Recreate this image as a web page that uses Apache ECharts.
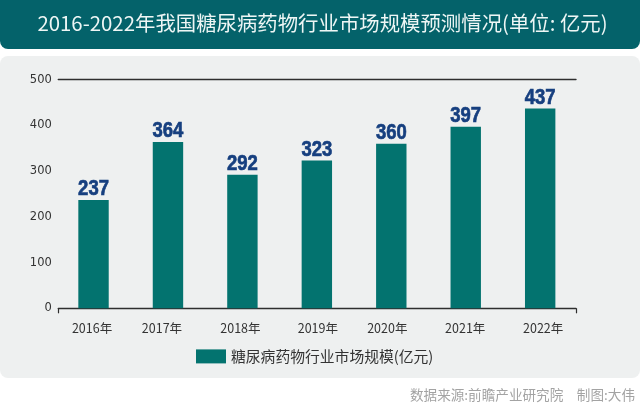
<!DOCTYPE html>
<html><head><meta charset="utf-8">
<style>html,body{margin:0;padding:0;background:#fff}#c{width:640px;height:405px}</style>
<script src="https://cdn.jsdelivr.net/npm/echarts@6/dist/echarts.min.js"></script>
</head><body><div id="c"></div>
<script>
const categories = ['2016年','2017年','2018年','2019年','2020年','2021年','2022年'];
const values = [237,364,292,323,360,397,437];
const seriesName = '糖尿病药物行业市场规模(亿元)';
const titleText = '2016-2022年我国糖尿病药物行业市场规模预测情况(单位: 亿元)';
const sourceText = '数据来源:前瞻产业研究院　制图:大伟';
const labelShift = [-1.5,-6,-2,1,-4,-0.5,3];
const cjk = '"Noto Sans CJK SC","Noto Sans",sans-serif';
const chart = echarts.init(document.getElementById('c'), null, {renderer:'canvas'});
const grids = {top:79.7,bottom:96.7};
chart.setOption({
  animation:false,
  backgroundColor:'#fff',
  graphic:[
    {type:'rect',z:-10,shape:{x:0,y:-10,width:640,height:59,r:8},style:{fill:'#04626a'},silent:true},
    {type:'rect',z:-10,shape:{x:0,y:56,width:640,height:322,r:8},style:{fill:'#eef0f0'},silent:true}
  ],
  title:[
    {text:titleText,left:317.5,top:8,textAlign:'center',textStyle:{color:'#eef6f5',fontFamily:cjk,fontWeight:400,fontSize:20.4}},
    {text:sourceText,right:0,top:383,textStyle:{color:'#a3a3a3',fontFamily:cjk,fontWeight:400,fontSize:13.6}}
  ],
  grid:[
    {left:56.3,right:62.6,...grids},
    {left:58.3,right:64,...grids}
  ],
  legend:{
    data:[seriesName],left:196,top:349,padding:0,itemWidth:30,itemHeight:14,itemGap:6,icon:'rect',
    textStyle:{color:'#333',fontFamily:cjk,fontSize:14.8}
  },
  xAxis:[
    {type:'category',gridIndex:0,
     data:categories.map((c,i)=>({value:c,textStyle:{padding:labelShift[i]>0?[0,0,0,labelShift[i]*2]:[0,-labelShift[i]*2,0,0]}})),
     axisLine:{show:false},axisTick:{show:false},
     axisLabel:{color:'#333',fontFamily:cjk,fontSize:12.5,margin:14}},
    {type:'value',gridIndex:1,min:0,max:1,interval:1,position:'bottom',
     axisLine:{show:true,lineStyle:{color:'#2e2e2e',width:1.4}},
     axisTick:{show:true,length:5,lineStyle:{color:'#2e2e2e',width:1.2}},
     axisLabel:{show:false},splitLine:{show:false}},
    {type:'value',gridIndex:1,min:0,max:1,interval:1,position:'top',
     axisLine:{show:true,lineStyle:{color:'#2e2e2e',width:1.4}},
     axisTick:{show:false},axisLabel:{show:false},splitLine:{show:false}}
  ],
  yAxis:[
    {type:'value',gridIndex:0,min:0,max:500,interval:100,
     axisLine:{show:false},axisTick:{show:false},splitLine:{show:false},
     axisLabel:{color:'#333',fontFamily:'"DejaVu Sans",sans-serif',fontSize:11.5,margin:4.5,padding:[4,0,0,0]}},
    {type:'value',gridIndex:1,min:0,max:500,show:false,splitLine:{show:false}}
  ],
  series:[
    {name:seriesName,type:'bar',xAxisIndex:0,yAxisIndex:0,data:values,barWidth:30.4,itemStyle:{color:'#03736f'}},
    {name:'labels',type:'custom',xAxisIndex:0,yAxisIndex:0,silent:true,z:5,
     data:values.map((v,i)=>[i,v]),
     renderItem(params,api){
       const p=api.coord([api.value(0),api.value(1)]);
       return {type:'text',x:p[0],y:p[1],scaleX:0.84,scaleY:1,
         style:{text:String(api.value(1)),align:'center',verticalAlign:'bottom',
           fill:'#163f7f',stroke:'#163f7f',lineWidth:0.7,
           font:'bold 22px "Liberation Sans",sans-serif'}};
     }}
  ]
});
</script></body></html>
